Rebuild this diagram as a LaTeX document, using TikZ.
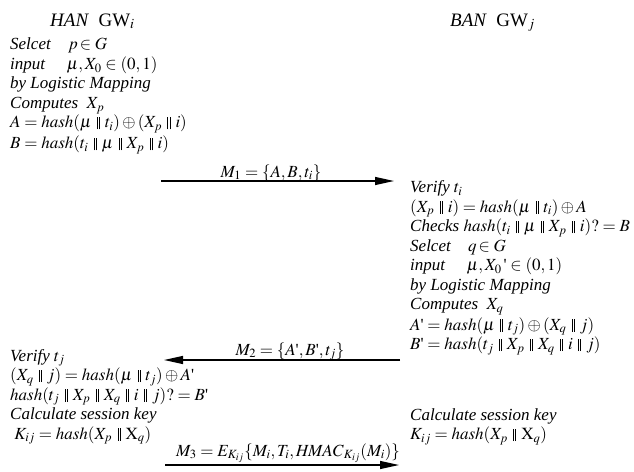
\documentclass[tikz,border=0pt]{standalone}
\usepackage{mathptmx}
\usepackage[no-math]{fontspec}
\setmainfont{Liberation Serif}
\usetikzlibrary{arrows.meta}
\tikzset{
  txt/.style={anchor=north west, inner sep=0pt, align=left, font=\fontsize{17}{19.5}\selectfont},
  ttl/.style={anchor=base west, inner sep=0pt, font=\fontsize{19}{22}\selectfont},
  lbl/.style={anchor=base, inner sep=0pt, font=\fontsize{17}{19}\selectfont},
  msg/.style={line width=1.2pt, -{Triangle[length=19pt,width=8pt]}}
}
\newcommand{\hh}{\mathit{hash}}
\newcommand{\pp}{\mathrel{\mbox{\hspace{1.5pt}\rule[-1.5pt]{0.6pt}{12.5pt}\hspace{1.6pt}\rule[-1.5pt]{0.6pt}{12.5pt}\hspace{1.5pt}}}}
\newcommand{\pr}{\mbox{\textquotesingle}}
\begin{document}
\begin{tikzpicture}[x=1pt,y=-1pt]
\useasboundingbox (0,0) rectangle (634,471);
% titles
\node[ttl] (hanT) at (50,26) {\textit{HAN}\ \ GW$_i$};
\node[ttl] (banT) at (450,26) {\textit{BAN}\ \ GW$_j$};
% left block 1
\node[txt] (left1) at (10,38) {%
\textit{Selcet}\quad $p\!\in G$\\
\textit{input}\quad\ $\mu, X_0\in(0,1)$\\
\textit{by Logistic Mapping}\\
\textit{Computes}\ \ $X_p$\\
$A=\hh(\mu\pp t_i)\oplus(X_p\pp i)$\\[1.5pt]
$B=\hh(t_i\pp \mu\pp X_p\pp i)$};
% right block 1
\node[txt] (right1) at (410,180.5) {%
\textit{Verify} $t_i$\\
$(X_p\pp i)=\hh(\mu\pp t_i)\oplus A$\\
\textit{Checks} $\hh(t_i\pp \mu\pp X_p\pp i)?=B$\\
\textit{Selcet}\quad $q\!\in G$\\
\textit{input}\quad\ $\mu, X_0\,\pr\in(0,1)$\\
\textit{by Logistic Mapping}\\
\textit{Computes}\ \ $X_q$\\[1pt]
$A\pr=\hh(\mu\pp t_j)\oplus(X_q\pp j)$\\
$B\pr=\hh(t_j\pp X_p\pp X_q\pp i\pp j)$};
% left block 2
\node[txt] (left2) at (10,349) {%
\textit{Verify} $t_j$\\
$(X_q\pp j)=\hh(\mu\pp t_j)\oplus A\pr$\\
$\hh(t_j\pp X_p\pp X_q\pp i\pp j)?=B\pr$\\
\textit{Calculate session key}\\
\ $K_{ij}=\hh(X_p\pp \mathrm{X}_q)$};
% right block 2
\node[txt] (right2) at (410,408) {%
\textit{Calculate session key}\\
$K_{ij}=\hh(X_p\pp \mathrm{X}_q)$};
% messages
\coordinate (m1s) at (161,181);
\coordinate (m1e) at (394,181);
\draw[msg] (m1s) -- (m1e);
\node[lbl] (m1l) at (271,177) {$M_1=\{A,B,t_i\}$};
\coordinate (m2s) at (400,360);
\coordinate (m2e) at (164,360);
\draw[msg] (m2s) -- (m2e);
\node[lbl] (m2l) at (290,355) {$M_2=\{A\pr,B\pr,t_j\}$};
\coordinate (m3s) at (165,465);
\coordinate (m3e) at (399,465);
\draw[msg] (m3s) -- (m3e);
\node[lbl] (m3l) at (288,456) {$M_3=E_{K_{ij}}\{M_i,T_i,\mathit{HMAC}_{K_{ij}}(M_i)\}$};
\end{tikzpicture}
\end{document}
